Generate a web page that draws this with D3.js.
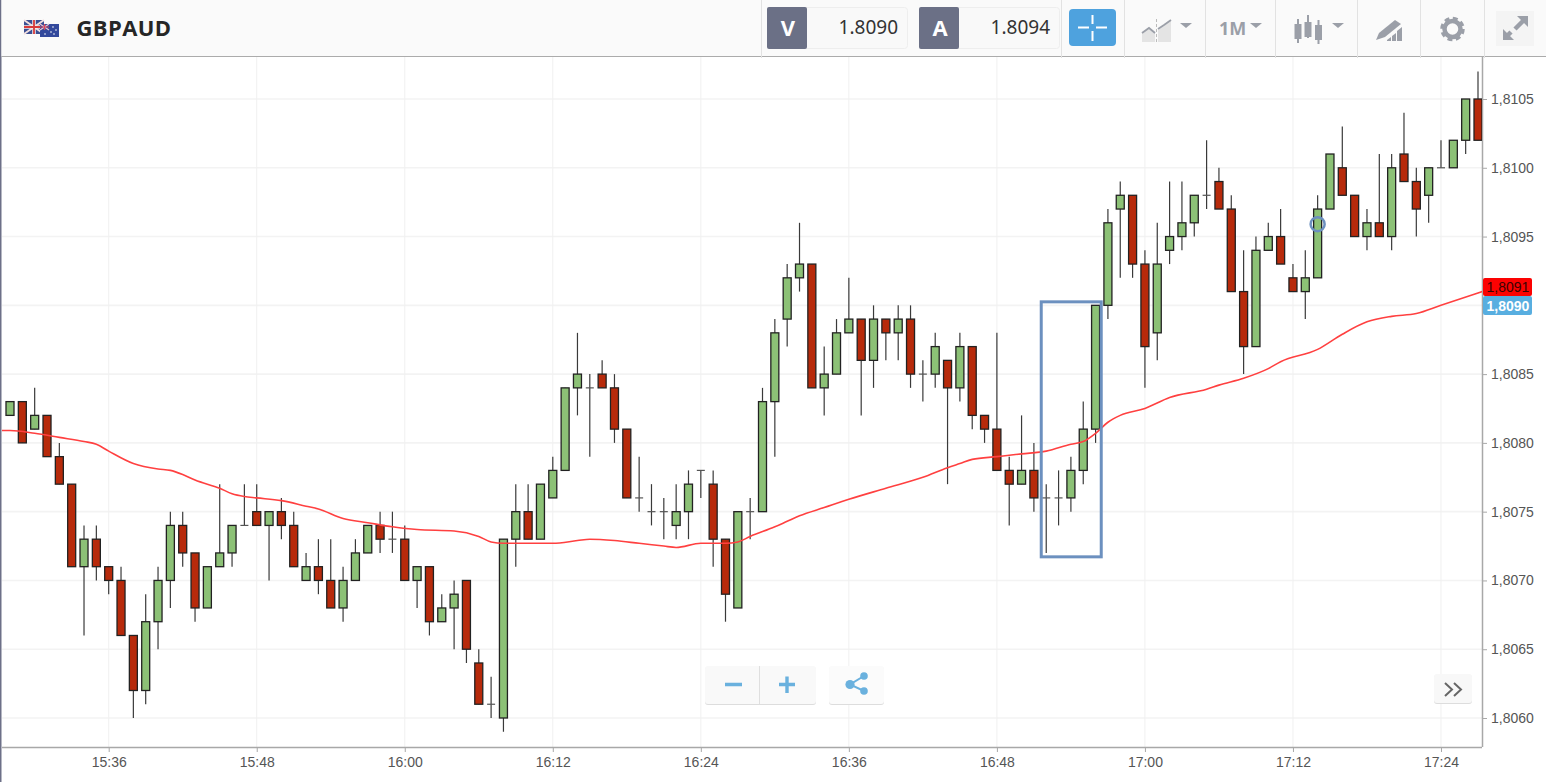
<!DOCTYPE html>
<html>
<head>
<meta charset="utf-8">
<title>GBPAUD</title>
<script src="https://cdn.jsdelivr.net/npm/d3@7"></script>
<style>
  html, body { margin: 0; padding: 0; background: #fff; overflow: hidden; }
  svg { display: block; }
  .axis text { font-family: "Liberation Sans", Arial, sans-serif; font-size: 14px; fill: #555; }
  .axis line, .axis path { stroke: #a8a8a8; }
</style>
</head>
<body>
<svg id="chart" width="1546" height="782"></svg>
<script>
// one candle per minute, starting at 15:28
const open = [1.8082,1.8083,1.8081,1.8082,1.8079,1.8077,1.8071,1.8073,1.8071,1.8070,1.8066,1.8062,1.8067,1.8070,1.8074,1.8072,1.8068,1.8071,1.8072,1.8074,
  1.8075,1.8074,1.8075,1.8074,1.8070,1.8071,1.8070,1.8068,1.8070,1.8072,1.8074,1.8073,1.8073,1.8070,1.8071,1.8067,1.8068,1.8070,1.8064,1.8061,
  1.8060,1.8073,1.8075,1.8073,1.8076,1.8078,1.8084,1.8084,1.8085,1.8084,1.8081,1.8076,1.8075,1.8075,1.8074,1.8075,1.8078,1.8077,1.8073,1.8068,
  1.8075,1.8075,1.8083,1.8089,1.8092,1.8093,1.8084,1.8085,1.8088,1.8089,1.8086,1.8089,1.8088,1.8089,1.8085,1.8085,1.8086,1.8084,1.8087,1.8082,
  1.8081,1.8078,1.8077,1.8078,1.8076,1.8076,1.8076,1.8078,1.8081,1.8090,1.8097,1.8098,1.8093,1.8088,1.8094,1.8095,1.8096,1.8098,1.8099,1.8097,
  1.8091,1.8087,1.8094,1.8095,1.8092,1.8091,1.8092,1.8097,1.8100,1.8098,1.8095,1.8096,1.8095,1.8101,1.8099,1.8098,1.8100,1.8100,1.8102,1.8105];
const high = [1.8083,1.8083,1.8084,1.8082,1.8080,1.8077,1.8074,1.8074,1.8071,1.8071,1.8066,1.8069,1.8071,1.8075,1.8075,1.8072,1.8071,1.8077,1.8074,1.8077,
  1.8077,1.8075,1.8076,1.8075,1.8072,1.8073,1.8073,1.8071,1.8073,1.8074,1.8075,1.8075,1.8074,1.8071,1.8071,1.8069,1.8070,1.8070,1.8065,1.8063,
  1.8073,1.8077,1.8077,1.8077,1.8079,1.8084,1.8088,1.8085,1.8086,1.8085,1.8081,1.8079,1.8077,1.8076,1.8077,1.8078,1.8078,1.8078,1.8073,1.8075,
  1.8076,1.8084,1.8089,1.8093,1.8096,1.8093,1.8087,1.8089,1.8092,1.8089,1.8090,1.8089,1.8090,1.8090,1.8086,1.8088,1.8086,1.8088,1.8087,1.8082,
  1.8088,1.8079,1.8082,1.8080,1.8077,1.8078,1.8079,1.8083,1.8090,1.8097,1.8099,1.8098,1.8094,1.8096,1.8099,1.8099,1.8098,1.8102,1.8100,1.8098,
  1.8094,1.8095,1.8096,1.8097,1.8093,1.8094,1.8098,1.8101,1.8103,1.8098,1.8097,1.8101,1.8101,1.8104,1.8100,1.8100,1.8102,1.8102,1.8105,1.8107];
const low = [1.8082,1.8080,1.8081,1.8079,1.8077,1.8071,1.8066,1.8070,1.8069,1.8066,1.8060,1.8061,1.8065,1.8068,1.8071,1.8067,1.8068,1.8071,1.8071,1.8074,
  1.8074,1.8070,1.8073,1.8071,1.8070,1.8069,1.8068,1.8067,1.8070,1.8072,1.8072,1.8072,1.8070,1.8068,1.8066,1.8067,1.8065,1.8064,1.8061,1.8060,
  1.8059,1.8071,1.8073,1.8073,1.8076,1.8078,1.8082,1.8079,1.8084,1.8080,1.8076,1.8075,1.8074,1.8073,1.8073,1.8073,1.8076,1.8071,1.8067,1.8068,
  1.8073,1.8075,1.8079,1.8087,1.8091,1.8084,1.8082,1.8085,1.8088,1.8082,1.8084,1.8086,1.8086,1.8084,1.8083,1.8084,1.8077,1.8083,1.8081,1.8080,
  1.8078,1.8074,1.8077,1.8075,1.8072,1.8074,1.8075,1.8077,1.8080,1.8089,1.8092,1.8092,1.8084,1.8086,1.8093,1.8094,1.8095,1.8097,1.8097,1.8091,
  1.8085,1.8087,1.8094,1.8093,1.8091,1.8089,1.8092,1.8097,1.8098,1.8095,1.8094,1.8095,1.8094,1.8099,1.8095,1.8096,1.8100,1.8100,1.8101,1.8102];
const close = [1.8083,1.8080,1.8082,1.8079,1.8077,1.8071,1.8073,1.8071,1.8070,1.8066,1.8062,1.8067,1.8070,1.8074,1.8072,1.8068,1.8071,1.8072,1.8074,1.8074,
  1.8074,1.8075,1.8074,1.8071,1.8071,1.8070,1.8068,1.8070,1.8072,1.8074,1.8073,1.8073,1.8070,1.8071,1.8067,1.8068,1.8069,1.8065,1.8061,1.8061,
  1.8073,1.8075,1.8073,1.8077,1.8078,1.8084,1.8085,1.8084,1.8084,1.8081,1.8076,1.8076,1.8075,1.8075,1.8075,1.8077,1.8078,1.8073,1.8069,1.8075,
  1.8075,1.8083,1.8088,1.8092,1.8093,1.8084,1.8085,1.8088,1.8089,1.8086,1.8089,1.8088,1.8089,1.8085,1.8085,1.8087,1.8084,1.8087,1.8082,1.8081,
  1.8078,1.8077,1.8078,1.8076,1.8076,1.8076,1.8078,1.8081,1.8090,1.8096,1.8098,1.8093,1.8087,1.8093,1.8095,1.8096,1.8098,1.8098,1.8097,1.8091,
  1.8087,1.8094,1.8095,1.8093,1.8091,1.8092,1.8097,1.8101,1.8098,1.8095,1.8096,1.8095,1.8100,1.8099,1.8097,1.8100,1.8100,1.8102,1.8105,1.8102];

// moving average, read at these minutes after 15:28
const maMinute = [-1,0,2,4,6,7,8,10,12,13,14,15,17,18,19,20,22,24,25,27,29,31,33,36,38,39,40,42,44,46,47,49,51,53,54,56,58,59,60,62,63,64,66,68,71,74,76,77,78,80,81,82,84,86,87,88,89,90,92,94,97,98,100,102,103,106,108,110,112,114,116,119,120];
const maValue = [1.80809,1.80809,1.80807,1.80804,1.80801,1.80799,1.80794,1.80785,1.80781,1.80780,1.80777,1.80773,1.80767,1.80763,1.80761,1.80760,1.80758,1.80754,1.80752,1.80745,1.80742,1.80739,1.80737,1.80736,1.80732,1.80728,1.80727,1.80727,1.80727,1.80729,1.80730,1.80729,1.80727,1.80725,1.80724,1.80727,1.80727,1.80728,1.80732,1.80739,1.80743,1.80747,1.80753,1.80759,1.80767,1.80775,1.80782,1.80785,1.80788,1.80790,1.80791,1.80792,1.80794,1.80799,1.80801,1.80807,1.80815,1.80820,1.80825,1.80833,1.80839,1.80842,1.80847,1.80854,1.80859,1.80868,1.80879,1.80888,1.80892,1.80894,1.80900,1.80909,1.80912];

const priceTicks = [1.806,1.8065,1.807,1.8075,1.808,1.8085,1.809,1.8095,1.81,1.8105];
const timeTicks = ["15:36","15:48","16:00","16:12","16:24","16:36","16:48","17:00","17:12","17:24"];

const svg = d3.select("#chart");
const plot = { left: 2, right: 1482, top: 57, bottom: 747 };
const start = new Date(2018, 0, 1, 15, 28);
const atMinute = m => d3.timeMinute.offset(start, m);
const parseTick = s => { const p = s.split(":"); return new Date(2018, 0, 1, +p[0], +p[1]); };

const x = d3.scaleTime().domain([atMinute(0), atMinute(119)]).range([10, 1478]);
const y = d3.scaleLinear().domain([1.806, 1.8105]).range([718, 99]);

svg.append("defs").append("clipPath").attr("id", "plotClip").append("rect")
  .attr("x", plot.left).attr("y", plot.top)
  .attr("width", plot.right - plot.left).attr("height", plot.bottom - plot.top);

// left window edge
svg.append("rect").attr("x", 0).attr("y", 0).attr("width", 1.5).attr("height", 782).attr("fill", "#6d7088");

// grid
svg.append("g").selectAll("line").data(priceTicks).enter().append("line")
  .attr("x1", plot.left).attr("x2", plot.right)
  .attr("y1", d => y(d)).attr("y2", d => y(d))
  .attr("stroke", "#f3f3f3").attr("stroke-width", 1.6);
svg.append("g").selectAll("line").data(timeTicks).enter().append("line")
  .attr("x1", d => x(parseTick(d))).attr("x2", d => x(parseTick(d)))
  .attr("y1", plot.top).attr("y2", plot.bottom)
  .attr("stroke", "#f0f0f0").attr("stroke-width", 1);

// axes
const fmtPrice = d => d3.format(".4f")(d).replace(".", ",");
const yAxis = svg.append("g").attr("class", "axis").attr("transform", `translate(${plot.right},0)`)
  .call(d3.axisRight(y).tickValues(priceTicks).tickFormat(fmtPrice).tickSize(5).tickSizeOuter(0).tickPadding(4));
yAxis.select(".domain").attr("d", `M0.5,${plot.top}V${plot.bottom}`).attr("stroke-width", 1.5);
// the 1,8090 label sits under the blue price tag
yAxis.selectAll(".tick").filter(d => d === 1.809).select("text").remove();

const xAxis = svg.append("g").attr("class", "axis").attr("transform", `translate(0,${plot.bottom})`)
  .call(d3.axisBottom(x).tickValues(timeTicks.map(parseTick)).tickFormat(d3.timeFormat("%H:%M")).tickSize(5).tickSizeOuter(0).tickPadding(5));
xAxis.select(".domain").attr("d", `M${plot.left},0.5H${plot.right}`).attr("stroke-width", 1.5);

// candles
const candles = open.map((o, i) => ({ t: atMinute(i), o: o, h: high[i], l: low[i], c: close[i] }));
const main = svg.append("g").attr("clip-path", "url(#plotClip)");
const bodyW = 8;
const candle = main.selectAll("g.candle").data(candles).enter().append("g").attr("class", "candle");
candle.append("line")
  .attr("x1", d => x(d.t)).attr("x2", d => x(d.t))
  .attr("y1", d => y(d.h)).attr("y2", d => y(d.l))
  .attr("stroke", "#3a3a3a").attr("stroke-width", 1.2);
// open == close gets a small dash, the rest a filled body
candle.filter(d => d.o === d.c).append("line")
  .attr("x1", d => x(d.t) - 4).attr("x2", d => x(d.t) + 4)
  .attr("y1", d => y(d.o)).attr("y2", d => y(d.o))
  .attr("stroke", "#555").attr("stroke-width", 1.2);
candle.filter(d => d.o !== d.c).append("rect")
  .attr("x", d => x(d.t) - bodyW / 2)
  .attr("width", bodyW)
  .attr("y", d => y(Math.max(d.o, d.c)))
  .attr("height", d => Math.abs(y(d.o) - y(d.c)))
  .attr("fill", d => d.c > d.o ? "#8cc176" : "#b72a0b")
  .attr("stroke", "#222").attr("stroke-width", 1.3);

// moving average
const maLine = d3.line().x(d => x(atMinute(d[0]))).y(d => y(d[1])).curve(d3.curveMonotoneX);
main.append("path").datum(maMinute.map((m, i) => [m, maValue[i]]))
  .attr("d", maLine).attr("fill", "none").attr("stroke", "#ff4040").attr("stroke-width", 1.6);

// annotations on the picture
svg.append("rect")
  .attr("x", x(atMinute(84)) - 5).attr("y", y(1.80900) - 3.5)
  .attr("width", 60).attr("height", 255)
  .attr("fill", "none").attr("stroke", "#6c90bf").attr("stroke-width", 3);
svg.append("circle")
  .attr("cx", x(atMinute(106))).attr("cy", y(1.80959)).attr("r", 7)
  .attr("fill", "none").attr("stroke", "#6c90bf").attr("stroke-width", 2.5);

// price tags
function priceTag(top, h, fill, col, weight, label) {
  svg.append("rect").attr("x", 1483).attr("y", top).attr("width", 49).attr("height", h).attr("rx", 2).attr("fill", fill);
  svg.append("text").attr("x", 1508).attr("y", top + h / 2 + 5).attr("text-anchor", "middle")
    .attr("font-family", "Liberation Sans, Arial, sans-serif").attr("font-size", 14).attr("font-weight", weight)
    .attr("fill", col).text(label);
}
priceTag(278, 18, "#fb0202", "#3a0303", "normal", "1,8091");
priceTag(296, 19, "#58aee0", "#fff", "bold", "1,8090");

// toolbar
const bar = svg.append("g");
bar.append("rect").attr("x", 1.5).attr("y", 0).attr("width", 1545).attr("height", 56).attr("fill", "#fafafa");
bar.append("line").attr("x1", 1.5).attr("x2", 1546).attr("y1", 56.5).attr("y2", 56.5).attr("stroke", "#ababab").attr("stroke-width", 1.2);
[761, 1061, 1124, 1205, 1275, 1357, 1420, 1484].forEach(sx => {
  bar.append("line").attr("x1", sx + .5).attr("x2", sx + .5).attr("y1", 0).attr("y2", 58).attr("stroke", "#e2e2e2");
});

// flags
const uk = bar.append("g");
uk.append("rect").attr("x", 24).attr("y", 20).attr("width", 20).attr("height", 14).attr("fill", "#3a4f93");
uk.append("path").attr("d", "M24,20L44,34M44,20L24,34").attr("stroke", "#f0dede").attr("stroke-width", 2);
uk.append("path").attr("d", "M34,20V34M24,27H44").attr("stroke", "#f4f0f0").attr("stroke-width", 3.5);
uk.append("path").attr("d", "M34,20V34M24,27H44").attr("stroke", "#d63a3a").attr("stroke-width", 1.8);
const au = bar.append("g");
au.append("rect").attr("x", 40).attr("y", 24).attr("width", 19).attr("height", 13).attr("fill", "#33499c");
au.append("path").attr("d", "M40,24L49,30M49,24L40,30").attr("stroke", "#e8c8d0").attr("stroke-width", 1.3);
au.append("path").attr("d", "M44.5,24V30M40,27H49").attr("stroke", "#d9455a").attr("stroke-width", 1.2);
[[53, 27], [56, 30], [51, 32], [54, 34], [45, 34]].forEach(s => {
  au.append("circle").attr("cx", s[0]).attr("cy", s[1]).attr("r", .8).attr("fill", "#fff");
});

bar.append("text").attr("x", 76.5).attr("y", 36)
  .attr("font-family", "Open Sans, sans-serif").attr("font-size", 22).attr("font-weight", 700)
  .attr("letter-spacing", .4).attr("fill", "#262626").text("GBPAUD");

function quote(bx, letter, value) {
  bar.append("rect").attr("x", bx + .5).attr("y", 7.5).attr("width", 140).attr("height", 41).attr("rx", 3)
    .attr("fill", "#f9f9f9").attr("stroke", "#eeeeee");
  bar.append("rect").attr("x", bx).attr("y", 7).attr("width", 40).attr("height", 42).attr("rx", 2).attr("fill", "#6b7086");
  bar.append("text").attr("x", bx + 21).attr("y", 36).attr("text-anchor", "middle")
    .attr("font-family", "Open Sans, sans-serif").attr("font-size", 22).attr("font-weight", 700).attr("fill", "#fff").text(letter);
  bar.append("text").attr("x", bx + 131).attr("y", 34).attr("text-anchor", "end")
    .attr("font-family", "Noto Sans, sans-serif").attr("font-size", 19).attr("fill", "#333").text(value);
}
quote(767, "V", "1.8090");
quote(919, "A", "1.8094");

bar.append("rect").attr("x", 1069).attr("y", 9).attr("width", 47).attr("height", 37).attr("rx", 4).attr("fill", "#4ea2de");
bar.append("path").attr("d", "M1078,27.5H1089M1096,27.5H1107M1092.5,15V24M1092.5,31V41")
  .attr("stroke", "#fff").attr("stroke-width", 2);

const iconGrey = "#9b9fa8";
// chart type icon
bar.append("path").attr("d", "M1142,42V33L1149,29L1155,33V42Z").attr("fill", "#e4e4e4");
bar.append("path").attr("d", "M1158,42V30L1164,26L1171,20V42Z").attr("fill", "#e4e4e4");
bar.append("path").attr("d", "M1142,33L1149,28L1155,33M1158,29L1164,25L1171,20").attr("fill", "none").attr("stroke", iconGrey).attr("stroke-width", 1.8);
bar.append("line").attr("x1", 1156.5).attr("x2", 1156.5).attr("y1", 19).attr("y2", 42).attr("stroke", "#bbb").attr("stroke-dasharray", "3,2");
const caret = cx => bar.append("path").attr("d", `M${cx - 6},23H${cx + 6}L${cx},28Z`).attr("fill", iconGrey);
caret(1186); caret(1256); caret(1338);
bar.append("text").attr("x", 1219).attr("y", 35)
  .attr("font-family", "Open Sans, sans-serif").attr("font-size", 18).attr("font-weight", 700).attr("fill", iconGrey).text("1M");
// candle icon
[[1298, 19, 24, 43], [1308, 15, 22, 38], [1318.5, 20, 25, 44]].forEach(c => {
  bar.append("line").attr("x1", c[0]).attr("x2", c[0]).attr("y1", c[1]).attr("y2", c[3]).attr("stroke", iconGrey).attr("stroke-width", 2);
  bar.append("rect").attr("x", c[0] - 3.5).attr("y", c[2]).attr("width", 7).attr("height", 15).attr("fill", iconGrey);
});
// pencil and bars icon
bar.append("path").attr("d", "M1376,40L1379,33L1395,20L1401,24L1385,37Z").attr("fill", iconGrey);
bar.append("path").attr("d", "M1387,41H1391V37L1387,40ZM1392,41H1396V33L1392,36ZM1397,41H1402V27L1397,31Z").attr("fill", iconGrey);
// gear icon
bar.append("circle").attr("cx", 1452.5).attr("cy", 29).attr("r", 10.5).attr("fill", "none").attr("stroke", iconGrey).attr("stroke-width", 3.5).attr("stroke-dasharray", "4.8,3.45");
bar.append("circle").attr("cx", 1452.5).attr("cy", 29).attr("r", 8).attr("fill", "none").attr("stroke", iconGrey).attr("stroke-width", 4.5);
// fullscreen icon, two arrows with a gap between them
bar.append("rect").attr("x", 1496).attr("y", 11).attr("width", 38).attr("height", 35).attr("fill", "#f4f4f4");
bar.append("path").attr("d", "M1517,16H1528V27Z").attr("fill", iconGrey);
bar.append("path").attr("d", "M1503,29V40H1514Z").attr("fill", iconGrey);
bar.append("path").attr("d", "M1523,21L1515,29M1508,35L1511,32").attr("stroke", iconGrey).attr("stroke-width", 4.5);

// floating buttons
const btn = svg.append("g");
const blue = "#6ab1de";
function floatBox(bx, by, w, h, fill) {
  btn.append("rect").attr("x", bx).attr("y", by + 1).attr("width", w).attr("height", h).attr("rx", 3).attr("fill", "#dddddd");
  btn.append("rect").attr("x", bx).attr("y", by).attr("width", w).attr("height", h).attr("rx", 3).attr("fill", fill);
}
floatBox(705, 666, 111, 38, "#f9f9f9");
btn.append("line").attr("x1", 759.5).attr("x2", 759.5).attr("y1", 666).attr("y2", 704).attr("stroke", "#dfdfdf");
btn.append("path").attr("d", "M725,684.5H742M779,684.5H795M787,676.5V693").attr("stroke", blue).attr("stroke-width", 3.4);
floatBox(829, 666, 55, 38, "#fbfbfb");
btn.append("path").attr("d", "M864,676L850,684.5L864,691").attr("fill", "none").attr("stroke", blue).attr("stroke-width", 2);
[[864, 676, 3.8], [850, 684.5, 4.6], [864, 691, 3.8]].forEach(c => {
  btn.append("circle").attr("cx", c[0]).attr("cy", c[1]).attr("r", c[2]).attr("fill", blue);
});
floatBox(1434, 674, 38, 29, "#f8f8f8");
btn.append("path").attr("d", "M1445,683L1452,689.5L1445,696M1454,683L1461,689.5L1454,696").attr("fill", "none").attr("stroke", "#666").attr("stroke-width", 2);
</script>
</body>
</html>
